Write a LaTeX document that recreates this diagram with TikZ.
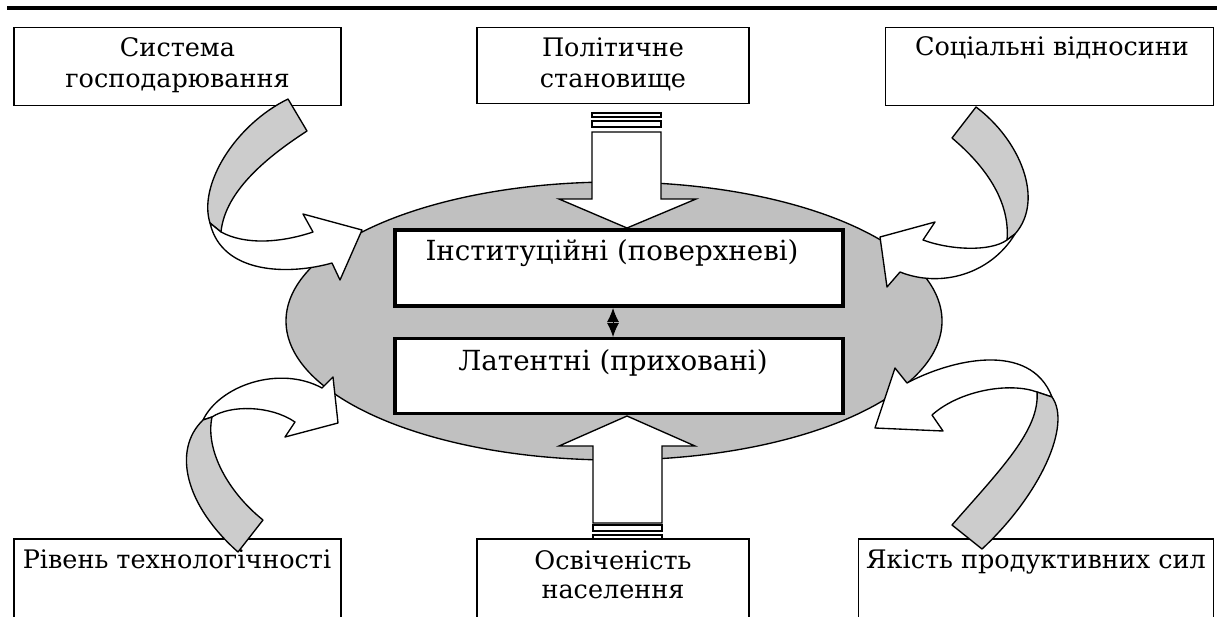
\documentclass[tikz,border=0pt]{standalone}
\usepackage{fontspec}
\setmainfont{DejaVu Serif}
\usetikzlibrary{arrows.meta,shapes.geometric}
\definecolor{ellgray}{RGB}{192,192,192}
\definecolor{ribgray}{RGB}{204,204,204}
\begin{document}
\begin{tikzpicture}[x=1pt,y=-1pt,
  outbox/.style={draw, line width=1.9pt, fill=white, inner sep=0pt},
  inbox/.style={draw, line width=3.6pt, fill=white, inner sep=0pt},
  lbl/.style={anchor=base, inner sep=0pt, font=\fontsize{25.5}{30}\selectfont},
  ilbl/.style={anchor=base, inner sep=0pt, font=\fontsize{27.7}{32}\selectfont},
  rib/.style={draw, line width=1.35pt, line join=round, fill=ribgray},
  ribw/.style={draw, line width=1.35pt, line join=round, fill=white},
  blk/.style={draw, line width=1.35pt, fill=white}]
\useasboundingbox (0,0) rectangle (1217,616);
\clip (0,0) rectangle (1217,616);
% top rule
\coordinate (ruleL) at (7,8);
\coordinate (ruleR) at (1217,8);
\draw[line width=4.3pt] (ruleL) -- (ruleR);
% outer boxes
\node[outbox, minimum width=327pt, minimum height=78pt] (b1) at (177.5,66.5) {};
\node[outbox, minimum width=272pt, minimum height=76pt] (b2) at (613.4,65.5) {};
\node[outbox, minimum width=328pt, minimum height=78pt] (b3) at (1049.5,66.5) {};
\node[outbox, minimum width=327pt, minimum height=101pt] (b4) at (177.5,589.5) {};
\node[outbox, minimum width=272pt, minimum height=101pt] (b5) at (613.4,589.5) {};
\node[outbox, minimum width=355pt, minimum height=101pt] (b6) at (1036,589.5) {};
\node[lbl] (t1a) at (177.5,56) {Система};
\node[lbl] (t1b) at (177.5,87) {господарювання};
\node[lbl] (t2a) at (613,56.5) {Політичне};
\node[lbl] (t2b) at (613,87) {становище};
\node[lbl] (t3) at (1052,55) {Соціальні відносини};
\node[lbl] (t4) at (177,568) {Рівень технологічності};
\node[lbl] (t5a) at (613,569) {Освіченість};
\node[lbl] (t5b) at (613,598) {населення};
\node[lbl] (t6) at (1036,568) {Якість продуктивних сил};
% ellipse
\node[draw, line width=1.35pt, fill=ellgray, ellipse, minimum width=656pt, minimum height=278pt, inner sep=0pt] (ell) at (614,321) {};
% inner boxes
\node[inbox, minimum width=448pt, minimum height=76.5pt] (ib1) at (619,268) {};
\node[inbox, minimum width=448pt, minimum height=75pt] (ib2) at (619,376) {};
\node[ilbl] (ti1) at (612,260) {Інституційні (поверхневі)};
\node[ilbl] (ti2) at (613,370) {Латентні (приховані)};
\draw[line width=1pt, {Latex[length=14pt,width=12pt]}-{Latex[length=14pt,width=12pt]}] (613,308) -- (613,337);
% top block arrow
\draw[blk] (592,113) rectangle (661,117);
\draw[blk] (592,121) rectangle (661,127);
\draw[blk] (592,132) -- (661,132) -- (661,199) -- (696,199) -- (627,228) -- (559,199) -- (592,199) -- cycle;
% bottom block arrow
\draw[blk] (593,535) rectangle (662,538.5);
\draw[blk] (593,525) rectangle (662,531);
\draw[blk] (593,523) -- (662,523) -- (662,446) -- (695,446) -- (627,416) -- (559,446) -- (593,446) -- cycle;
% curved arrow top-left
\draw[rib] (288,99) -- (307,131) .. controls (270,155) and (225,190) .. (221,232) -- (210,223) .. controls (198,185) and (235,125) .. (288,99) -- cycle;
\draw[ribw] (210,223) -- (221,232) .. controls (245,245) and (280,243) .. (313,232) -- (303,214) -- (362,230) -- (340,280) -- (332,263) .. controls (290,275) and (222,275) .. (210,223) -- cycle;
% curved arrow top-right
\draw[rib] (976,107) .. controls (1020,140) and (1045,200) .. (1015,234) -- (1007,240) .. controls (1010,205) and (990,170) .. (952,138) -- cycle;
\draw[ribw] (1007,240) .. controls (990,252) and (950,250) .. (923,240) -- (935,222) -- (880,237) -- (887,287) -- (900,272) .. controls (940,288) and (990,275) .. (1015,234) -- cycle;
% curved arrow bottom-left
\draw[ribw] (203,420) .. controls (220,385) and (280,365) .. (322,388) -- (333,377) -- (338,423) -- (285,437) -- (295,422) .. controls (270,405) and (230,405) .. (212,417) -- cycle;
\draw[rib] (238,552) -- (263,520) .. controls (228,492) and (205,450) .. (212,417) -- (203,420) .. controls (172,450) and (185,505) .. (238,552) -- cycle;
% curved arrow bottom-right
\draw[ribw] (1037,392) .. controls (1010,382) and (960,390) .. (932,415) -- (943,431) -- (875,428) -- (895,368) -- (907,383) .. controls (950,360) and (1030,340) .. (1052,397) -- cycle;
\draw[rib] (982,549) -- (952,525) .. controls (1000,470) and (1040,430) .. (1037,392) -- (1052,397) .. controls (1072,425) and (1040,495) .. (982,549) -- cycle;
\end{tikzpicture}
\end{document}
